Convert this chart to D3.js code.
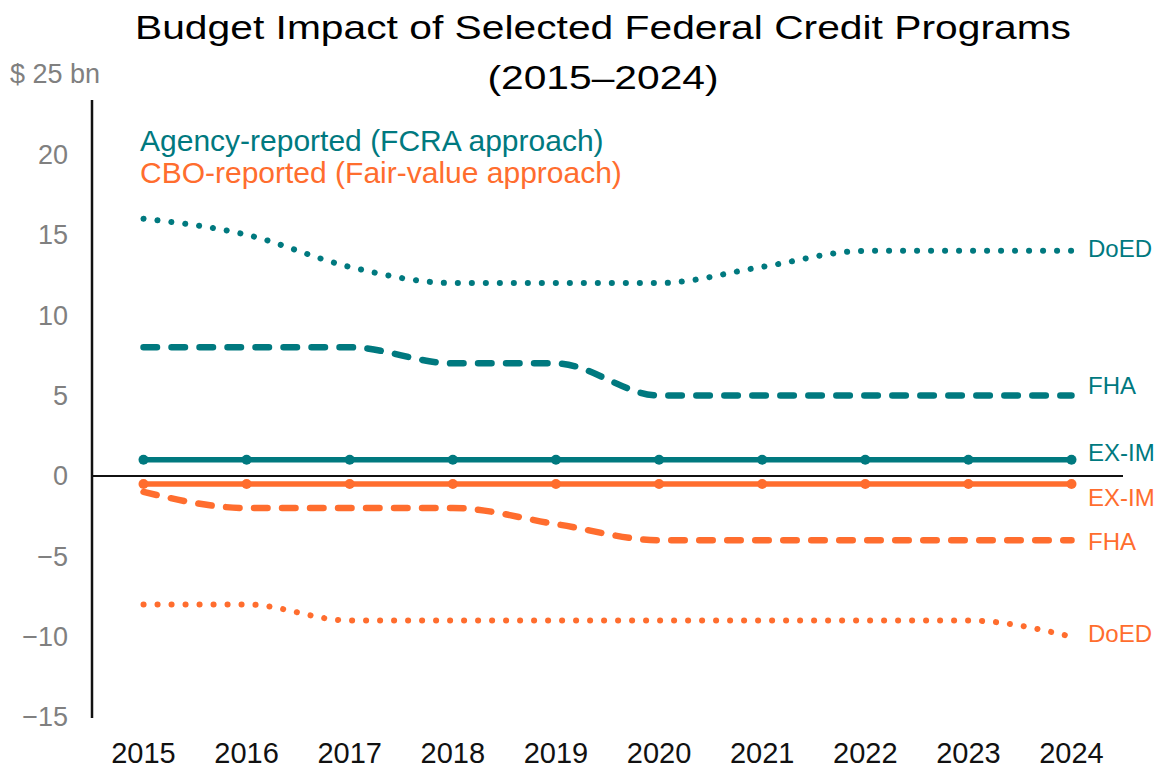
<!DOCTYPE html>
<html>
<head>
<meta charset="utf-8">
<script src="https://cdn.jsdelivr.net/npm/d3@7/dist/d3.min.js"></script>
<style>
  html, body { margin: 0; padding: 0; background: #fff; }
  svg text { font-family: "Liberation Sans", Arial, sans-serif; }
</style>
</head>
<body>
<svg id="chart" width="1164" height="768"></svg>
<script>
// ---- data ----
const years = [2015, 2016, 2017, 2018, 2019, 2020, 2021, 2022, 2023, 2024];
const agencyDoED = [16, 15, 13, 12, 12, 12, 13, 14, 14, 14];
const agencyFHA  = [8, 8, 8, 7, 7, 5, 5, 5, 5, 5];
const agencyEXIM = [1, 1, 1, 1, 1, 1, 1, 1, 1, 1];
const cboEXIM    = [-0.5, -0.5, -0.5, -0.5, -0.5, -0.5, -0.5, -0.5, -0.5, -0.5];
const cboFHA     = [-1, -2, -2, -2, -3, -4, -4, -4, -4, -4];
const cboDoED    = [-8, -8, -9, -9, -9, -9, -9, -9, -9, -10];
const yTicks = [-15, -10, -5, 0, 5, 10, 15, 20, 25];
const titleLines = ["Budget Impact of Selected Federal Credit Programs", "(2015\u20132024)"];
const legendLabels = ["Agency-reported (FCRA approach)", "CBO-reported (Fair-value approach)"];

// ---- styles ----
const TEAL = "#00797f", ORANGE = "#ff6d2e";
const series = [
  { name: "DoED",  values: agencyDoED, color: TEAL,   style: "dot",   dy: -2 },
  { name: "FHA",   values: agencyFHA,  color: TEAL,   style: "dash",  dy: -10 },
  { name: "EX-IM", values: agencyEXIM, color: TEAL,   style: "solid", dy: -7 },
  { name: "EX-IM", values: cboEXIM,    color: ORANGE, style: "solid", dy: 14 },
  { name: "FHA",   values: cboFHA,     color: ORANGE, style: "dash",  dy: 1 },
  { name: "DoED",  values: cboDoED,    color: ORANGE, style: "dot",   dy: -3 }
];

const svg = d3.select("#chart");
const x = d3.scalePoint().domain(years).range([143.5, 1071.5]);
const y = d3.scaleLinear().domain([-15, 25]).range([717, 74]);

// title
const titleWidths = [936, 231];
svg.append("g").selectAll("text").data(titleLines).join("text")
  .attr("x", 603).attr("y", (d, i) => i === 0 ? 39 : 89)
  .attr("text-anchor", "middle").attr("font-size", 33).attr("fill", "#000")
  .attr("textLength", (d, i) => titleWidths[i]).attr("lengthAdjust", "spacingAndGlyphs")
  .text(d => d);

// y tick labels
svg.append("g").selectAll("text").data(yTicks).join("text")
  .attr("x", d => d === 25 ? 10 : 68)
  .attr("y", d => y(d)).attr("dy", "0.35em")
  .attr("text-anchor", d => d === 25 ? "start" : "end")
  .attr("font-size", 27).attr("fill", "#808080")
  .text(d => d === 25 ? "$ 25 bn" : (d < 0 ? "\u2212" + Math.abs(d) : d));

// x tick labels
svg.append("g").selectAll("text").data(years).join("text")
  .attr("x", d => x(d)).attr("y", 763)
  .attr("text-anchor", "middle").attr("font-size", 29).attr("fill", "#111")
  .text(d => d);

// axes lines
svg.append("line").attr("x1", 92).attr("x2", 92).attr("y1", 100).attr("y2", 718)
  .attr("stroke", "#111").attr("stroke-width", 2.5);
svg.append("line").attr("x1", 92).attr("x2", 1123).attr("y1", y(0)).attr("y2", y(0))
  .attr("stroke", "#111").attr("stroke-width", 2);

// lines
const line = d3.line().x((d, i) => x(years[i])).y(d => y(d)).curve(d3.curveMonotoneX);
const g = svg.append("g");
series.forEach(s => {
  const p = g.append("path").attr("d", line(s.values)).attr("fill", "none")
    .attr("stroke", s.color).attr("stroke-linecap", "round").attr("stroke-linejoin", "round");
  if (s.style === "dot") p.attr("stroke-width", 6).attr("stroke-dasharray", "0.1,13.9");
  else if (s.style === "dash") p.attr("stroke-width", 6.5).attr("stroke-dasharray", "13.5,14.5");
  else {
    p.attr("stroke-width", 5.5);
    g.append("g").selectAll("circle").data(s.values).join("circle")
      .attr("cx", (d, i) => x(years[i])).attr("cy", d => y(d)).attr("r", 5)
      .attr("fill", s.color);
  }
  g.append("text").attr("x", 1088).attr("y", y(s.values[s.values.length - 1]) + s.dy)
    .attr("dy", "0.35em").attr("font-size", 24).attr("fill", s.color).text(s.name);
});

// legend
svg.append("g").selectAll("text").data(legendLabels).join("text")
  .attr("x", 140).attr("y", (d, i) => 140 + i * 32).attr("dy", "0.35em")
  .attr("font-size", 30).attr("fill", (d, i) => i === 0 ? TEAL : ORANGE)
  .text(d => d);
</script>
</body>
</html>
